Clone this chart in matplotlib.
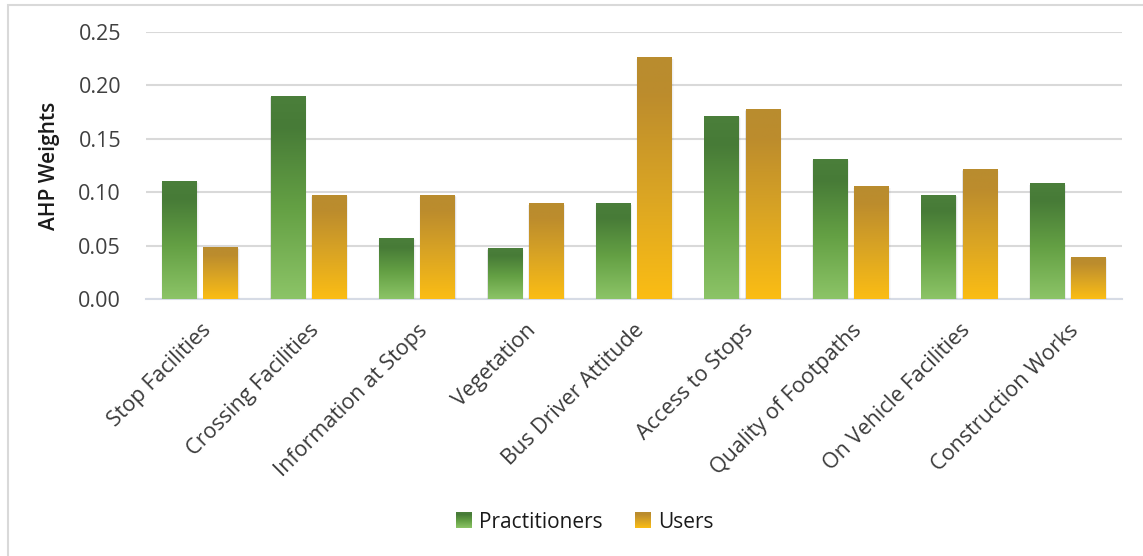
import numpy as np
import matplotlib
matplotlib.use("Agg")
import matplotlib.pyplot as plt
from matplotlib.colors import LinearSegmentedColormap
from matplotlib.patches import Rectangle
from matplotlib.legend_handler import HandlerBase
from matplotlib.image import BboxImage
from matplotlib.transforms import Bbox, TransformedBbox

categories = ["Stop Facilities", "Crossing Facilities", "Information at Stops",
              "Vegetation", "Bus Driver Attitude", "Access to Stops",
              "Quality of Footpaths", "On Vehicle Facilities", "Construction Works"]
practitioners = [0.110, 0.190, 0.057, 0.047, 0.089, 0.171, 0.131, 0.097, 0.108]
users = [0.048, 0.097, 0.097, 0.089, 0.226, 0.177, 0.105, 0.121, 0.039]
series_names = ["Practitioners", "Users"]
yticks = [0.00, 0.05, 0.10, 0.15, 0.20, 0.25]

plt.rcParams["font.family"] = ["Open Sans", "DejaVu Sans"]

green_cmap = LinearSegmentedColormap.from_list(
    "green", [(0.0, "#4b7f3b"), (0.15, "#477b37"), (0.55, "#64a044"), (1.0, "#8cc467")])
gold_cmap = LinearSegmentedColormap.from_list(
    "gold", [(0.0, "#b98c2f"), (0.15, "#bc8c2d"), (0.55, "#d9a424"), (1.0, "#fbbd14")])

grad = np.linspace(0, 1, 256).reshape(-1, 1)

fig = plt.figure(figsize=(11.43, 5.56), dpi=100)
ax = fig.add_axes([146 / 1143, 1 - 299 / 556, (1122 - 146) / 1143, (299 - 32) / 556])

# chart frame
fig.patches.append(Rectangle((8 / 1143, -0.05), 1.1, 1 - 5 / 556 + 0.05,
                             transform=fig.transFigure, fill=False,
                             edgecolor="#d9d9d9", linewidth=1.5, zorder=0))

x = np.arange(len(categories))
w = 0.32
off = 0.19
bars_p = ax.bar(x - off, practitioners, w, color="none", zorder=3)
bars_u = ax.bar(x + off, users, w, color="none", zorder=3)


def paint(bars, cmap):
    for b in bars:
        x0, h, bw = b.get_x(), b.get_height(), b.get_width()
        # soft drop shadow
        for k, a in enumerate([0.06, 0.045, 0.03]):
            dx = 0.004 + 0.006 * k
            dy = 0.0006 + 0.0007 * k
            ax.add_patch(Rectangle((x0 - dx * 0.5, -dy), bw + dx * 1.5, h + dy * 0.3,
                                   facecolor="#303040", alpha=a, linewidth=0, zorder=2))
        # dark at the top of each bar, light at the base
        ax.imshow(grad, cmap=cmap, extent=[x0, x0 + bw, 0, h], aspect="auto",
                  origin="upper", zorder=3, interpolation="bilinear")


paint(bars_p, green_cmap)
paint(bars_u, gold_cmap)

ax.set_xlim(-0.5, len(categories) - 0.5)
ax.set_ylim(0, 0.25)
ax.set_yticks(yticks)
ax.set_yticklabels([f"{v:.2f}" for v in yticks])
ax.set_xticks(x)
ax.set_xticklabels(categories, rotation=45, ha="right", rotation_mode="anchor",
                   fontsize=15.5, color="#3a3a3a")
ax.tick_params(axis="x", length=0, pad=15)
ax.tick_params(axis="y", length=0, pad=18, labelsize=15.5, labelcolor="#404040")
for s in ["top", "right", "left"]:
    ax.spines[s].set_visible(False)
ax.spines["bottom"].set_color("#d6dbe5")
ax.spines["bottom"].set_linewidth(1.5)
ax.spines["bottom"].set_zorder(1)
ax.yaxis.grid(True, color="#d9d9d9", linewidth=1.5, zorder=0)
ax.set_axisbelow(True)
ax.set_ylabel("AHP Weights", fontsize=15, fontweight="semibold", color="#1a1a1a")
ax.yaxis.set_label_coords(-86 / 976, 0.5)


class GradientHandler(HandlerBase):
    def __init__(self, cmap):
        super().__init__()
        self.cmap = cmap

    def create_artists(self, legend, orig_handle, xdescent, ydescent, width, height,
                       fontsize, trans):
        side = min(width, height) * 1.05
        x0 = -xdescent + (width - side)
        y0 = -ydescent + (height - side) / 2
        bb = TransformedBbox(Bbox([[x0, y0], [x0 + side, y0 + side]]), trans)
        img = BboxImage(bb, cmap=self.cmap, interpolation="bilinear", origin="upper")
        img.set_data(grad)
        return [img]


h1 = Rectangle((0, 0), 1, 1)
h2 = Rectangle((0, 0), 1, 1)
fig.legend([h1, h2], series_names, loc="center", bbox_to_anchor=(582 / 1143, 1 - 522 / 556),
           ncol=2, frameon=False, fontsize=15, handlelength=1.0, handletextpad=0.4,
           columnspacing=1.25, labelcolor="#1a1a1a",
           handler_map={h1: GradientHandler(green_cmap), h2: GradientHandler(gold_cmap)})

fig.savefig("out.png", dpi=100)
